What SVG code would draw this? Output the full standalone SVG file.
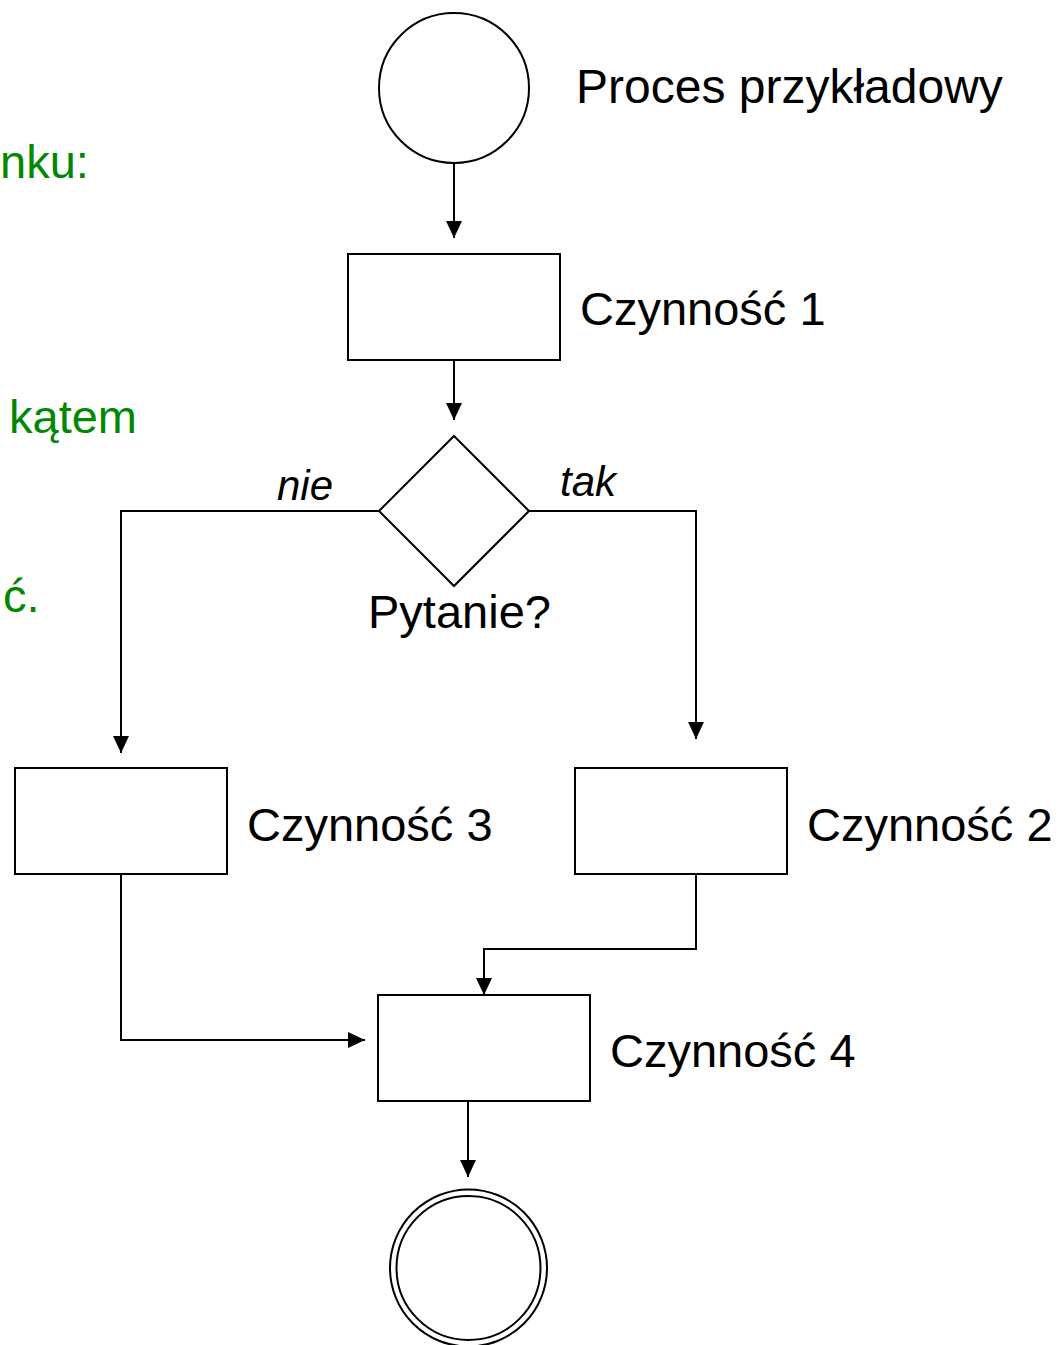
<svg xmlns="http://www.w3.org/2000/svg" width="1059" height="1345" viewBox="0 0 1059 1345">
<style>
.shape{fill:#fff;stroke:#000;stroke-width:2}
.line{fill:none;stroke:#000;stroke-width:2}
.lbl{font-family:"Liberation Sans",Arial,sans-serif;font-size:47px;fill:#000}
.it{font-family:"Liberation Sans",Arial,sans-serif;font-size:42px;font-style:italic;fill:#000}
.green{font-family:"Liberation Sans",Arial,sans-serif;font-size:47px;fill:#008800}
</style>
<defs>
<marker id="arr" markerWidth="20" markerHeight="20" refX="17" refY="8" orient="auto" markerUnits="userSpaceOnUse" overflow="visible">
<path d="M0,0 L17,8 L0,16 Z" fill="#000"/>
</marker>
</defs>
<rect width="1059" height="1345" fill="#fff"/>
<g id="side-text">
<text class="green" x="0" y="178">nku:</text>
<text class="green" x="9" y="433">kątem</text>
<text class="green" x="3" y="612">ć.</text>
</g>
<g id="connectors">
<path class="line" d="M454,163 V238" marker-end="url(#arr)"/>
<path class="line" d="M454,360 V420" marker-end="url(#arr)"/>
<path class="line" d="M379,511 H121 V753" marker-end="url(#arr)"/>
<path class="line" d="M529,511 H696 V739" marker-end="url(#arr)"/>
<path class="line" d="M696,874 V949 H484 V995" marker-end="url(#arr)"/>
<path class="line" d="M121,874 V1040 H365" marker-end="url(#arr)"/>
<path class="line" d="M468,1101 V1177" marker-end="url(#arr)"/>
<text class="it" x="277" y="500">nie</text>
<text class="it" x="560" y="496">tak</text>
</g>
<g id="start">
<circle class="shape" cx="454" cy="88" r="75"/>
<text class="lbl" x="576" y="103" style="font-size:48px">Proces przykładowy</text>
</g>
<g id="czynnosc1">
<rect class="shape" x="348" y="254" width="212" height="106"/>
<text class="lbl" x="580" y="325">Czynność 1</text>
</g>
<g id="pytanie">
<polygon class="shape" points="454,436 529,511 454,586 379,511"/>
<text class="lbl" x="368" y="628">Pytanie?</text>
</g>
<g id="czynnosc3">
<rect class="shape" x="15" y="768" width="212" height="106"/>
<text class="lbl" x="247" y="841">Czynność 3</text>
</g>
<g id="czynnosc2">
<rect class="shape" x="575" y="768" width="212" height="106"/>
<text class="lbl" x="807" y="841">Czynność 2</text>
</g>
<g id="czynnosc4">
<rect class="shape" x="378" y="995" width="212" height="106"/>
<text class="lbl" x="610" y="1067">Czynność 4</text>
</g>
<g id="end">
<circle class="shape" cx="468.5" cy="1268" r="78.5" stroke-width="3"/>
<circle class="shape" cx="468.5" cy="1268" r="72" stroke-width="3"/>
</g>
</svg>
